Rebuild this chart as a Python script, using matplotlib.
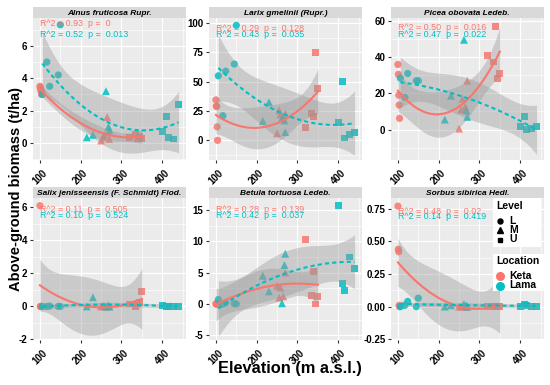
import numpy as np
import matplotlib.pyplot as plt
from matplotlib.patches import Rectangle
from matplotlib.ticker import AutoMinorLocator

plt.rcParams['font.family'] = ['Liberation Sans', 'DejaVu Sans']
plt.rcParams['axes.unicode_minus'] = False

species = ['Alnus fruticosa Rupr.', 'Larix gmelinii (Rupr.)', 'Picea obovata Ledeb.',
           'Salix jenisseensis (F. Schmidt) Flod.', 'Betula tortuosa Ledeb.', 'Sorbus sibirica Hedl.']

# elevations of the plots (m a.s.l.)
keta_L_x = [100, 101, 102, 103, 104]
keta_M_x = [250, 255, 258, 265, 270]
keta_U_x = [320, 335, 340, 345, 350]
lama_L_x = [106, 117, 124, 145, 150]
lama_M_x = [215, 230, 262, 268, 270]
lama_U_x = [400, 410, 415, 428, 440]

# above-ground biomass (t/ha), one row per species
keta_L = [[3.5, 3.4, 3.3, 3.2, 3.0],
          [34.5, 29, 29, 11.5, 0],
          [36, 30.5, 19, 13.5, 6.2],
          [6.1, 0, 0, 0, 0],
          [0, 0, 0, 0.05, 0],
          [0.77, 0.44, 0.42, 0.01, 0]]
keta_M = [[0.15, 0.35, 0.5, 1.6, 0.25],
          [6, 25.5, 22, 19, 22.5],
          [0.5, 11, 17, 12.5, 27],
          [0, 0.05, 0, 0.02, 0],
          [2.9, 1.0, 2.6, 1.2, 5.0],
          [0, 0, 0.005, 0, 0]]
keta_U = [[0.35, 0.55, 0.25, 0.4, 0.3],
          [10.8, 23, 20.5, 75, 44],
          [41, 37.3, 57, 28, 31],
          [0.15, 0, 0.2, 0.25, 0.92],
          [10.3, 1.4, 5.2, 0, 1.2],
          [0, 0, 0, 0, 0]]
lama_L = [[3.0, 5.0, 3.5, 4.2, 7.3],
          [55, 21, 59, 65, 98],
          [28.4, 17.8, 31, 27, 27],
          [0, 0, 0.02, 0, 0],
          [0.7, 0.0, 0.2, 0.05, 0.0],
          [0, 0.01, 0.04, 0, 0.065]]
lama_M = [[0.35, 0.5, 3.2, 1.0, 0.8],
          [16.5, 32.5, 19, 17, 7],
          [5.5, 18.7, 49.6, 10.5, 7.0],
          [0, 0.55, 0, 0.05, 0],
          [4.5, 2.0, 0.1, 6.2, 8.0],
          [0, 0.01, 0.02, 0.01, 0]]
lama_U = [[0.7, 1.65, 0.35, 0.25, 2.4],
          [15, 50, 2, 5, 7],
          [1.8, 7, 0, 0.5, 1.8],
          [0.05, 0, 0, 0, 0.02],
          [15.7, 3.3, 2.2, 7.5, 5.7],
          [0, 0.02, 0.01, 0, 0]]

keta_r2 = ['0.93', '0.29', '0.50', '0.11', '0.28', '0.48']
keta_p = ['0', '0.128', '0.016', '0.505', '0.139', '0.02']
lama_r2 = ['0.52', '0.43', '0.47', '0.10', '0.42', '0.14']
lama_p = ['0.013', '0.035', '0.022', '0.524', '0.037', '0.419']

y_ticks = [[0, 2, 4, 6], [0, 25, 50, 75, 100], [0, 20, 40, 60],
           [-2, 0, 2, 4, 6], [-5, 0, 5, 10, 15], [-0.25, 0, 0.25, 0.5, 0.75]]
y_labels = [['0', '2', '4', '6'], ['0', '25', '50', '75', '100'], ['0', '20', '40', '60'],
            ['-2', '0', '2', '4', '6'], ['-5', '0', '5', '10', '15'],
            ['-0.25', '0.00', '0.25', '0.50', '0.75']]
y_lims = [(-1.07, 7.7), (-17, 104), (-17, 61.5), (-2.05, 6.55), (-5.8, 16.85), (-0.258, 0.83)]
x_ticks = [100, 200, 300, 400]

KETA = '#F8766D'
LAMA = '#00BFC4'
W, H = 550, 385

# layout in pixels
col_left = [33, 209, 391]
row_top = [18.3, 198.3]
pw, ph, strip_h = 152.5, 142, 11.6
keta_off = [5, 10, 9.4, 11, 10.7, 12.7]
lama_off = [16, 16, 16, 17.7, 16.7, 18.4]


def t975(df):
    z = 1.959964
    return (z + (z**3 + z) / (4 * df) + (5 * z**5 + 16 * z**3 + 3 * z) / (96 * df**2)
            + (3 * z**7 + 19 * z**5 + 17 * z**3 - 15 * z) / (384 * df**3))


def quad_fit(x, y, xs):
    # y ~ poly(x, 2) with 95% confidence band, like geom_smooth(method='lm')
    x = np.asarray(x, float)
    y = np.asarray(y, float)
    m, sd = x.mean(), x.std()
    t = (x - m) / sd
    A = np.column_stack([np.ones_like(t), t, t**2])
    beta = np.linalg.lstsq(A, y, rcond=None)[0]
    res = y - A @ beta
    df = len(x) - 3
    cov = (res @ res / df) * np.linalg.inv(A.T @ A)
    ts = (xs - m) / sd
    A0 = np.column_stack([np.ones_like(ts), ts, ts**2])
    yhat = A0 @ beta
    se = np.sqrt(np.einsum('ij,jk,ik->i', A0, cov, A0))
    q = t975(df)
    return yhat, yhat - q * se, yhat + q * se


def px_axes(left, top, w, h):
    return fig.add_axes([left / W, 1 - (top + h) / H, w / W, h / H])


fig = plt.figure(figsize=(W / 100, H / 100), dpi=100)

markers = {'L': ('o', 27), 'M': ('^', 32), 'U': ('s', 24)}

for i, name in enumerate(species):
    r, c = divmod(i, 3)
    ax = px_axes(col_left[c], row_top[r], pw, ph)
    ax.set_facecolor('#EBEBEB')
    for s in ax.spines.values():
        s.set_visible(False)

    groups = [
        (KETA, '-', [(keta_L_x, keta_L[i], 'L'), (keta_M_x, keta_M[i], 'M'), (keta_U_x, keta_U[i], 'U')]),
        (LAMA, '--', [(lama_L_x, lama_L[i], 'L'), (lama_M_x, lama_M[i], 'M'), (lama_U_x, lama_U[i], 'U')]),
    ]
    for color, ls, parts in groups:
        xs_all, ys_all = [], []
        for xv, yv, lev in parts:
            mk, sz = markers[lev]
            ax.scatter(xv, yv, marker=mk, s=sz, color=color, alpha=0.85,
                       edgecolors='none', zorder=3)
            xs_all += list(xv)
            ys_all += list(yv)
        xs = np.linspace(min(xs_all), max(xs_all), 80)
        yhat, lo, hi = quad_fit(xs_all, ys_all, xs)
        ax.fill_between(xs, lo, hi, color='#999999', alpha=0.4, lw=0, zorder=4)
        line, = ax.plot(xs, yhat, color=color, lw=1.5, ls=ls, zorder=5)
        if ls == '--':
            line.set_dashes((2, 1.5))

    ax.set_xlim(83, 457)
    ax.set_ylim(*y_lims[i])
    ax.set_xticks(x_ticks)
    ax.set_xticklabels([str(v) for v in x_ticks], rotation=45, fontweight='bold', fontsize=7)
    ax.set_yticks(y_ticks[i])
    ax.set_yticklabels(y_labels[i], fontweight='bold', fontsize=7)
    ax.xaxis.set_minor_locator(AutoMinorLocator(2))
    ax.yaxis.set_minor_locator(AutoMinorLocator(2))
    ax.set_axisbelow(True)
    ax.grid(which='major', color='white', lw=0.9, zorder=0)
    ax.grid(which='minor', color='white', lw=0.45, zorder=0)
    ax.tick_params(which='major', length=2.5, color='#333333', labelcolor='black', pad=1.5)
    ax.tick_params(axis='x', which='major', pad=3)
    ax.tick_params(which='minor', length=0)

    ax.text(7 / pw, 1 - keta_off[i] / ph, f'R^2 = {keta_r2[i]}  p =  {keta_p[i]}',
            transform=ax.transAxes, color=KETA, fontsize=6.4, va='center', ha='left', zorder=6)
    ax.text(7 / pw, 1 - lama_off[i] / ph, f'R^2 = {lama_r2[i]}  p =  {lama_p[i]}',
            transform=ax.transAxes, color=LAMA, fontsize=6.4, va='center', ha='left', zorder=6)

    st = px_axes(col_left[c], row_top[r] - strip_h, pw, strip_h)
    st.set_facecolor('#D9D9D9')
    st.set_xticks([])
    st.set_yticks([])
    for s in st.spines.values():
        s.set_visible(False)
    st.text(0.5, 0.45, name, transform=st.transAxes, ha='center', va='center',
            fontsize=6, fontweight='bold', fontstyle='italic')

fig.text(16 / W, 1 - 189 / H, 'Above-ground biomass (t/ha)', rotation=90,
         ha='center', va='center', fontsize=10.5, fontweight='bold')
fig.text(290 / W, 1 - 369 / H, 'Elevation (m a.s.l.)',
         ha='center', va='center', fontsize=11.8, fontweight='bold')

# legends drawn on an overlay in pixel units
leg = fig.add_axes([0, 0, 1, 1])
leg.set_xlim(0, W)
leg.set_ylim(H, 0)
leg.axis('off')
leg.add_patch(Rectangle((493, 198), 48, 49, color='white', lw=0))
leg.add_patch(Rectangle((493, 254), 53, 37, color='white', lw=0))
leg.text(496, 206, 'Level', fontsize=7.5, fontweight='bold', va='center')
for lab, yy, mk, ms in [('L', 220.7, 'o', 3.6), ('M', 230, '^', 4.2), ('U', 239.5, 's', 3.4)]:
    leg.plot([500], [yy], marker=mk, ms=ms, color='black', ls='none')
    leg.text(509, yy, lab, fontsize=7.5, fontweight='bold', va='center')
leg.text(496, 261, 'Location', fontsize=7.5, fontweight='bold', va='center')
for lab, yy, col in [('Keta', 276, KETA), ('Lama', 285.5, LAMA)]:
    leg.plot([500], [yy], marker='o', ms=5.5, color=col, ls='none')
    leg.text(509, yy, lab, fontsize=7.5, fontweight='bold', va='center')

fig.savefig('out.png', dpi=100)
